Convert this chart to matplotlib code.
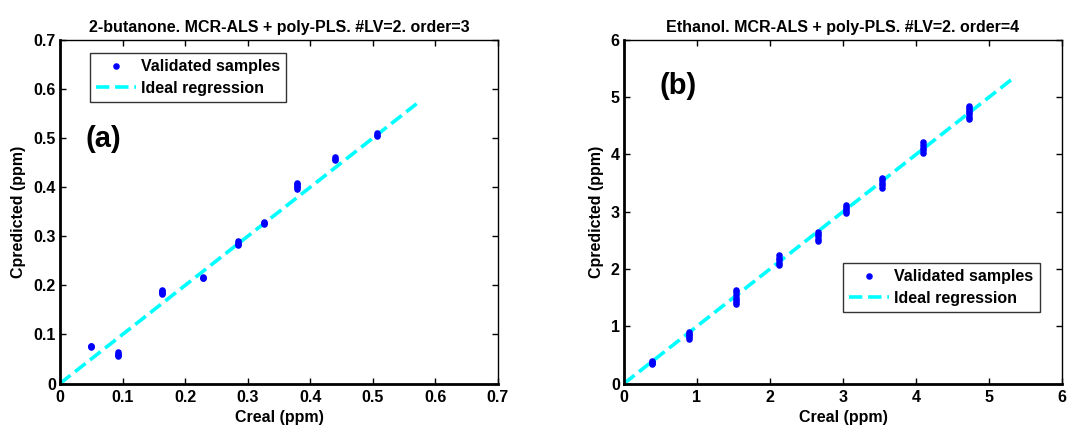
import numpy as np
import matplotlib
matplotlib.use("Agg")
import matplotlib.pyplot as plt

plt.rcParams['font.family'] = ['Liberation Sans', 'DejaVu Sans']
plt.rcParams['font.weight'] = 'bold'

# Panel (a): 2-butanone
creal_a = [0.050, 0.093, 0.163, 0.228, 0.284, 0.326, 0.379, 0.439, 0.507]
cpred_a = [
    [0.075, 0.0755, 0.076],
    [0.057, 0.059, 0.061, 0.0635],
    [0.183, 0.185, 0.187, 0.189, 0.1905],
    [0.214, 0.216, 0.218],
    [0.283, 0.285, 0.287, 0.290],
    [0.325, 0.327, 0.329],
    [0.397, 0.400, 0.403, 0.406, 0.409],
    [0.456, 0.458, 0.461],
    [0.505, 0.507, 0.5105],
]
ideal_a = [0.0, 0.57]

# Panel (b): ethanol
creal_b = [0.388, 0.89, 1.53, 2.13, 2.66, 3.045, 3.54, 4.10, 4.72]
cpred_b = [
    [0.34, 0.36, 0.38, 0.40],
    [0.78, 0.81, 0.84, 0.87, 0.90],
    [1.38, 1.42, 1.46, 1.50, 1.54, 1.59, 1.63],
    [2.07, 2.11, 2.15, 2.19, 2.24],
    [2.49, 2.53, 2.57, 2.61, 2.645],
    [2.98, 3.01, 3.04, 3.08, 3.11],
    [3.42, 3.46, 3.50, 3.55, 3.59],
    [4.03, 4.07, 4.12, 4.17, 4.22],
    [4.62, 4.66, 4.70, 4.74, 4.78, 4.82, 4.85],
]
ideal_b = [0.0, 5.32]

titles = ["2-butanone. MCR-ALS + poly-PLS. #LV=2. order=3",
          "Ethanol. MCR-ALS + poly-PLS. #LV=2. order=4"]
xticks_a = [0, 0.1, 0.2, 0.3, 0.4, 0.5, 0.6, 0.7]
xticks_b = [0, 1, 2, 3, 4, 5, 6]

fig = plt.figure(figsize=(10.67, 4.25), dpi=100)
ax1 = fig.add_axes([0.0562, 0.0976, 0.4105, 0.8084])
ax2 = fig.add_axes([0.5848, 0.0976, 0.4105, 0.8084])

FS = 11.5

def draw(ax, xs, ys, ideal, ticks, title, tag, tagpos, legkw):
    px, py = [], []
    for x, yl in zip(xs, ys):
        for y in yl:
            px.append(x); py.append(y)
    ax.plot(px, py, linestyle='none', marker='o', markersize=3.7,
            color='#0000ff', label='Validated samples', zorder=3)
    ax.plot(ideal, ideal, linestyle='--', color='#00ffff', linewidth=2.6,
            label='Ideal regression', zorder=2)
    ax.set_xlim(ticks[0], ticks[-1])
    ax.set_ylim(ticks[0], ticks[-1])
    ax.set_xticks(ticks)
    ax.set_yticks(ticks)
    ax.set_xticklabels([f"{t:g}" for t in ticks])
    ax.set_yticklabels([f"{t:g}" for t in ticks])
    ax.tick_params(direction='in', length=4, width=1, top=True, right=True,
                   labelsize=FS)
    ax.tick_params(axis='x', pad=5)
    ax.tick_params(axis='y', pad=3)
    for s in ax.spines.values():
        s.set_linewidth(1.0)
        s.set_color('black')
    ax.spines['bottom'].set_linewidth(2.0)
    ax.spines['left'].set_linewidth(2.0)
    ax.set_title(title, fontsize=FS, fontweight='bold', pad=6)
    ax.set_xlabel('Creal (ppm)', fontsize=FS, fontweight='bold', labelpad=3)
    ax.set_ylabel('Cpredicted (ppm)', fontsize=FS, fontweight='bold', labelpad=5)
    ax.text(tagpos[0], tagpos[1], tag, fontsize=21, fontweight='bold',
            ha='left', va='center')
    leg = ax.legend(frameon=True, fancybox=False, fontsize=FS,
                    handlelength=2.5, handletextpad=0.3, labelspacing=0.4,
                    borderpad=0.4, borderaxespad=0, markerscale=1.0,
                    numpoints=1, **legkw)
    leg.get_frame().set_edgecolor('black')
    leg.get_frame().set_linewidth(1.0)
    for t in leg.get_texts():
        t.set_fontweight('bold')

draw(ax1, creal_a, cpred_a, ideal_a, xticks_a, titles[0], '(a)', (0.0415, 0.499),
     dict(loc='upper left', bbox_to_anchor=(0.068, 0.962)))
draw(ax2, creal_b, cpred_b, ideal_b, xticks_b, titles[1], '(b)', (0.48, 5.19),
     dict(loc='upper left', bbox_to_anchor=(0.50, 0.351)))

fig.savefig('out.png', dpi=100)
